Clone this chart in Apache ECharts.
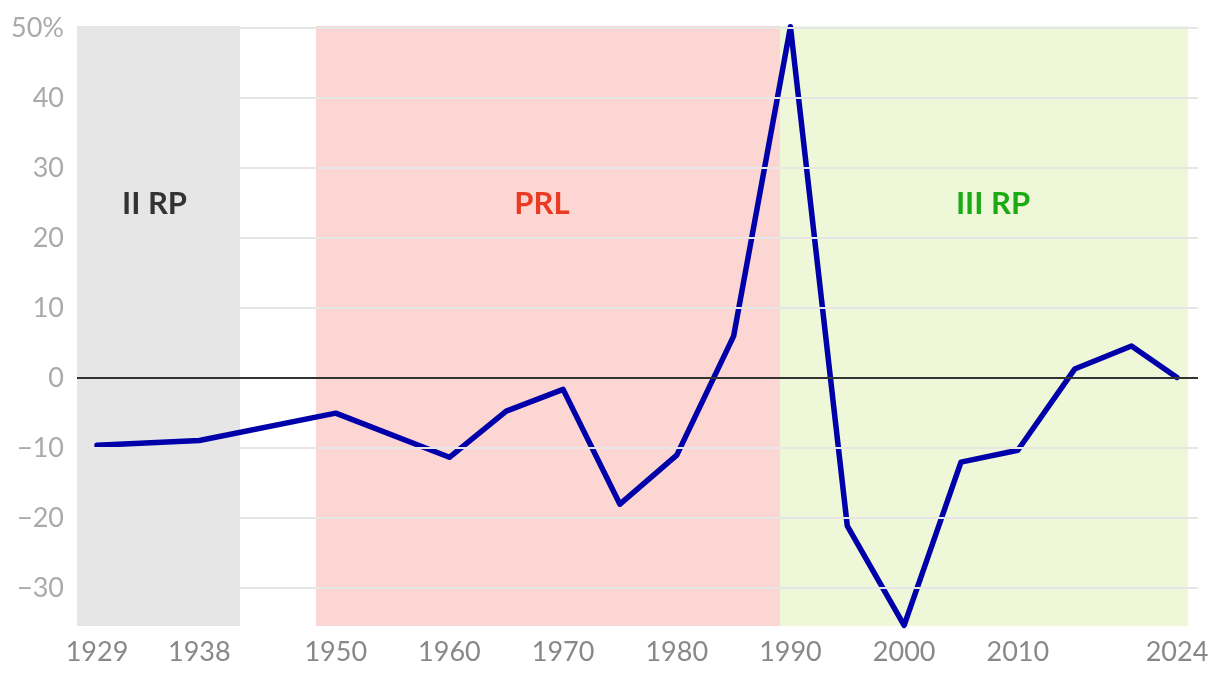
<!DOCTYPE html>
<html>
<head>
<meta charset="utf-8">
<script src="https://cdn.jsdelivr.net/npm/echarts@6/dist/echarts.min.js"></script>
<style>html,body{margin:0;padding:0;background:#fff}#c{width:1220px;height:682px}</style>
</head>
<body>
<div id="c"></div>
<script>
const years = [1929, 1938, 1950, 1960, 1965, 1970, 1975, 1980, 1985, 1990, 1995, 2000, 2005, 2010, 2015, 2020, 2024];
const values = [-9.6, -8.9, -5.0, -11.3, -4.7, -1.6, -18.0, -11.0, 6.0, 50.2, -21.1, -35.3, -12.0, -10.3, 1.3, 4.6, 0.1];
const xTickLabels = [1929, 1938, 1950, 1960, 1970, 1980, 1990, 2000, 2010, 2024];
const yTickValues = [-30, -20, -10, 0, 10, 20, 30, 40, 50];
const gridValues = [-30, -20, -10, 10, 20, 30, 40, 50];
const periods = [
  { name: 'II RP', from: 1927.24, to: 1941.58 },
  { name: 'PRL', from: 1948.26, to: 1989.08 },
  { name: 'III RP', from: 1989.08, to: 2024.97 }
];
const periodFill = ['#e6e6e6', '#fcd6d2', '#eef7d8'];
const periodText = ['#333333', '#ea3a22', '#1aaa12'];
const periodLabelShift = [-4, -6, 9];

const FONT = 'Lato, "Open Sans", sans-serif';
const chart = echarts.init(document.getElementById('c'), null, { renderer: 'canvas' });

const seriesData = years.map((y, i) => [y, values[i]]);

chart.setOption({
  animation: false,
  grid: { left: 77, right: 22, top: 26, bottom: 56, containLabel: false },
  xAxis: {
    type: 'value', min: 1927.24, max: 2025.85,
    axisLine: { show: false }, axisTick: { show: false }, splitLine: { show: false },
    axisLabel: {
      customValues: xTickLabels, color: '#888888', fontSize: 27, fontFamily: FONT,
      margin: 13, formatter: v => String(v)
    }
  },
  yAxis: {
    type: 'value', min: -35.4, max: 50.3,
    axisLine: { show: false }, axisTick: { show: false }, splitLine: { show: false },
    axisLabel: {
      customValues: yTickValues, color: '#aaaaaa', fontSize: 27, fontFamily: FONT, margin: 13,
      formatter: v => v === 50 ? '50%' : (v < 0 ? '\u2212' + Math.abs(v) : String(v))
    }
  },
  series: [
    {
      type: 'line', data: [], z: 1, silent: true,
      markArea: {
        silent: true,
        data: periods.map((p, i) => [
          { xAxis: p.from, yAxis: -35.4, itemStyle: { color: periodFill[i] },
            label: { show: true, position: 'insideTop', distance: 162, offset: [periodLabelShift[i], 0],
              formatter: p.name, color: periodText[i], fontSize: 31, fontWeight: 'bold', fontFamily: FONT } },
          { xAxis: p.to, yAxis: 50.3 }
        ])
      }
    },
    {
      type: 'line', data: [], z: 2, silent: true,
      markLine: {
        silent: true, symbol: 'none', label: { show: false },
        data: gridValues.map(v => ({ yAxis: v, lineStyle: { color: '#e6e6e6', width: 2, type: 'solid' } }))
      }
    },
    {
      type: 'line', data: seriesData, z: 3, clip: false,
      symbol: 'none', smooth: false,
      lineStyle: { color: '#0000aa', width: 5.5, cap: 'round', join: 'round' }
    },
    {
      type: 'line', data: [], z: 4, silent: true,
      markLine: {
        silent: true, symbol: 'none', label: { show: false },
        data: [{ yAxis: 0, lineStyle: { color: '#333333', width: 2, type: 'solid' } }]
      }
    }
  ]
});
</script>
</body>
</html>
